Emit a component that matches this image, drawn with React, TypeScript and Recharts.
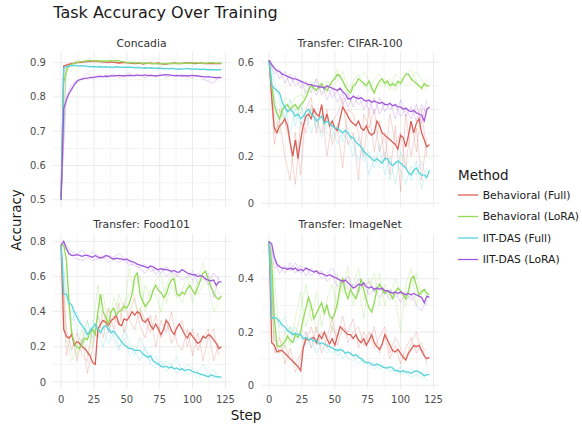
import { LineChart, Line, XAxis, YAxis, ReferenceLine } from 'recharts';

const FONT = '"DejaVu Sans", Verdana, sans-serif';

const METHODS = ['Behavioral (Full)', 'Behavioral (LoRA)', 'IIT-DAS (Full)', 'IIT-DAS (LoRA)'];
const COLORS = ['#DB5F57', '#91DB57', '#57D3DB', '#A157DB'];

// smoothed curves are sampled every 2 steps, single runs every 4
const MEAN_STEPS = [
  0, 2, 4, 6, 8, 10, 12, 14, 16, 18, 20, 22, 24, 26, 28, 30, 32, 34, 36, 38, 40, 42, 44, 46, 48, 50, 52, 54, 56, 58,
  60, 62, 64, 66, 68, 70, 72, 74, 76, 78, 80, 82, 84, 86, 88, 90, 92, 94, 96, 98, 100, 102, 104, 106, 108, 110, 112,
  114, 116, 118, 120, 122,
];
const SEED_STEPS = [
  0, 4, 8, 12, 16, 20, 24, 28, 32, 36, 40, 44, 48, 52, 56, 60, 64, 68, 72, 76, 80, 84, 88, 92, 96, 100, 104, 108, 112,
  116, 120,
];

const X_TICKS = [0, 25, 50, 75, 100, 125];
const X_MINOR = [12.5, 37.5, 62.5, 87.5, 112.5];

// ---- Concadia ----
const concBehFull = [
  0.5, 0.89, 0.893, 0.895, 0.897, 0.898, 0.9, 0.9, 0.901, 0.902,
  0.903, 0.904, 0.905, 0.905, 0.904, 0.903, 0.902, 0.903, 0.9, 0.902,
  0.901, 0.9, 0.899, 0.9, 0.901, 0.9, 0.899, 0.898, 0.897, 0.898,
  0.899, 0.896, 0.897, 0.898, 0.899, 0.897, 0.898, 0.899, 0.897, 0.895,
  0.896, 0.897, 0.898, 0.899, 0.898, 0.897, 0.898, 0.899, 0.9, 0.899,
  0.898, 0.897, 0.898, 0.899, 0.898, 0.897, 0.898, 0.897, 0.898, 0.897,
  0.898, 0.897,
];
const concBehLora = [
  0.5, 0.84, 0.875, 0.89, 0.895, 0.898, 0.9, 0.902, 0.903, 0.904,
  0.905, 0.906, 0.906, 0.905, 0.905, 0.904, 0.905, 0.904, 0.905, 0.906,
  0.905, 0.906, 0.905, 0.903, 0.902, 0.9, 0.901, 0.9, 0.899, 0.9,
  0.899, 0.898, 0.899, 0.898, 0.897, 0.898, 0.897, 0.896, 0.897, 0.896,
  0.897, 0.898, 0.897, 0.898, 0.897, 0.898, 0.897, 0.898, 0.899, 0.898,
  0.899, 0.9, 0.899, 0.898, 0.899, 0.898, 0.899, 0.9, 0.899, 0.898,
  0.899, 0.898,
];
const concIitFull = [
  0.5, 0.885, 0.888, 0.89, 0.891, 0.892, 0.891, 0.89, 0.891, 0.89,
  0.889, 0.888, 0.889, 0.888, 0.887, 0.888, 0.887, 0.888, 0.887, 0.886,
  0.887, 0.888, 0.887, 0.886, 0.887, 0.886, 0.887, 0.886, 0.885, 0.886,
  0.885, 0.884, 0.885, 0.884, 0.885, 0.884, 0.883, 0.884, 0.883, 0.882,
  0.883, 0.882, 0.883, 0.882, 0.881, 0.882, 0.881, 0.882, 0.883, 0.882,
  0.881, 0.882, 0.881, 0.88, 0.881, 0.88, 0.879, 0.88, 0.879, 0.88,
  0.879, 0.88,
];
const concIitLora = [
  0.5, 0.765, 0.79, 0.81, 0.822, 0.835, 0.845, 0.85, 0.852, 0.854,
  0.855, 0.856, 0.857, 0.858, 0.859, 0.86, 0.859, 0.861, 0.86, 0.862,
  0.861, 0.862, 0.863, 0.862, 0.861, 0.862, 0.863, 0.862, 0.863, 0.864,
  0.862, 0.863, 0.864, 0.862, 0.863, 0.862, 0.861, 0.862, 0.863, 0.864,
  0.865, 0.864, 0.863, 0.862, 0.863, 0.862, 0.861, 0.862, 0.861, 0.862,
  0.863, 0.862, 0.861, 0.86, 0.859, 0.858, 0.859, 0.858, 0.857, 0.856,
  0.857, 0.856,
];
const concBehFullRuns = [
  [0.5, 0.895, 0.9, 0.905, 0.903, 0.906, 0.9, 0.903, 0.898, 0.9, 0.902, 0.897, 0.9, 0.896, 0.899, 0.897, 0.9, 0.896, 0.898, 0.895, 0.899, 0.897, 0.9, 0.898, 0.901, 0.897, 0.899, 0.896, 0.898, 0.9, 0.897],
];
const concBehLoraRuns = [
  [0.5, 0.88, 0.895, 0.905, 0.903, 0.908, 0.905, 0.907, 0.904, 0.906, 0.908, 0.903, 0.9, 0.902, 0.898, 0.9, 0.897, 0.899, 0.896, 0.898, 0.895, 0.899, 0.897, 0.9, 0.898, 0.896, 0.9, 0.898, 0.901, 0.897, 0.899],
];
const concIitFullRuns = [
  [0.5, 0.895, 0.89, 0.893, 0.888, 0.896, 0.885, 0.892, 0.887, 0.89, 0.884, 0.889, 0.886, 0.891, 0.884, 0.888, 0.883, 0.886, 0.884, 0.887, 0.882, 0.885, 0.881, 0.884, 0.882, 0.879, 0.883, 0.88, 0.882, 0.878, 0.881],
];
const concIitLoraRuns = [
  [0.5, 0.8, 0.835, 0.848, 0.855, 0.87, 0.852, 0.865, 0.858, 0.856, 0.868, 0.855, 0.862, 0.87, 0.858, 0.864, 0.855, 0.866, 0.86, 0.868, 0.857, 0.863, 0.859, 0.866, 0.86, 0.855, 0.864, 0.852, 0.845, 0.84, 0.858],
];

// ---- Transfer: CIFAR-100 ----
const cifarBehFull = [
  0.61, 0.45, 0.32, 0.3, 0.33, 0.34, 0.36, 0.33, 0.26, 0.2,
  0.27, 0.19, 0.27, 0.33, 0.37, 0.38, 0.36, 0.4, 0.38, 0.37,
  0.42, 0.34, 0.38, 0.33, 0.35, 0.32, 0.31, 0.36, 0.41, 0.39,
  0.37, 0.35, 0.34, 0.33, 0.35, 0.32, 0.31, 0.33, 0.3, 0.29,
  0.3, 0.35, 0.33, 0.3, 0.29, 0.28, 0.27, 0.26, 0.25, 0.23,
  0.29, 0.28, 0.24, 0.29, 0.35, 0.3, 0.34, 0.36, 0.3, 0.27,
  0.24, 0.25,
];
const cifarBehLora = [
  0.61, 0.5, 0.42, 0.38, 0.36, 0.4, 0.41, 0.42, 0.4, 0.41,
  0.42, 0.4, 0.42, 0.43, 0.45, 0.48, 0.5, 0.49, 0.48, 0.5,
  0.51, 0.49, 0.48, 0.5, 0.52, 0.53, 0.55, 0.54, 0.52, 0.5,
  0.48, 0.47, 0.5, 0.51, 0.53, 0.52, 0.51, 0.5, 0.52, 0.49,
  0.47, 0.5, 0.52, 0.53, 0.51, 0.52, 0.5, 0.51, 0.5, 0.52,
  0.51, 0.53, 0.55, 0.55, 0.53, 0.52, 0.51, 0.5, 0.49, 0.51,
  0.5, 0.5,
];
const cifarIitFull = [
  0.61, 0.5, 0.49, 0.48, 0.47, 0.43, 0.41, 0.39, 0.4, 0.39,
  0.37, 0.38, 0.36, 0.37, 0.39, 0.4, 0.38, 0.37, 0.35, 0.36,
  0.37, 0.34, 0.35, 0.34, 0.33, 0.32, 0.32, 0.31, 0.3, 0.31,
  0.3, 0.28, 0.28, 0.26, 0.25, 0.24, 0.22, 0.21, 0.2, 0.19,
  0.18, 0.19, 0.18, 0.17, 0.19, 0.19, 0.17, 0.16, 0.17, 0.18,
  0.17, 0.16, 0.15, 0.13, 0.12, 0.14, 0.15, 0.13, 0.12, 0.12,
  0.11, 0.14,
];
const cifarIitLora = [
  0.61, 0.59, 0.575, 0.565, 0.56, 0.55, 0.545, 0.54, 0.535, 0.53,
  0.53, 0.525, 0.52, 0.515, 0.51, 0.505, 0.505, 0.5, 0.5, 0.495,
  0.495, 0.49, 0.5, 0.495, 0.49, 0.485, 0.48, 0.49, 0.475, 0.465,
  0.445, 0.445, 0.455, 0.45, 0.445, 0.45, 0.44, 0.435, 0.44, 0.43,
  0.435, 0.43, 0.425, 0.43, 0.42, 0.42, 0.425, 0.415, 0.42, 0.41,
  0.41, 0.4, 0.405, 0.395, 0.39, 0.395, 0.385, 0.38, 0.375, 0.35,
  0.4, 0.41,
];
const cifarBehFullRuns = [
  [0.61, 0.3, 0.35, 0.2, 0.1, 0.3, 0.12, 0.4, 0.45, 0.3, 0.42, 0.2, 0.35, 0.38, 0.45, 0.25, 0.3, 0.1, 0.38, 0.32, 0.4, 0.22, 0.3, 0.12, 0.33, 0.05, 0.38, 0.2, 0.32, 0.1, 0.28],
  [0.61, 0.25, 0.4, 0.35, 0.25, 0.08, 0.35, 0.3, 0.42, 0.36, 0.3, 0.4, 0.25, 0.32, 0.15, 0.4, 0.38, 0.3, 0.2, 0.4, 0.22, 0.35, 0.18, 0.38, 0.25, 0.3, 0.15, 0.35, 0.22, 0.4, 0.2],
];
const cifarBehLoraRuns = [
  [0.61, 0.38, 0.3, 0.45, 0.44, 0.4, 0.38, 0.5, 0.52, 0.48, 0.5, 0.47, 0.52, 0.57, 0.53, 0.45, 0.52, 0.55, 0.5, 0.48, 0.53, 0.55, 0.5, 0.53, 0.48, 0.52, 0.55, 0.57, 0.52, 0.48, 0.53],
  [0.61, 0.45, 0.42, 0.36, 0.4, 0.45, 0.46, 0.45, 0.48, 0.53, 0.47, 0.52, 0.5, 0.52, 0.56, 0.5, 0.48, 0.53, 0.56, 0.52, 0.48, 0.5, 0.53, 0.48, 0.55, 0.53, 0.5, 0.52, 0.56, 0.53, 0.48],
];
const cifarIitFullRuns = [
  [0.61, 0.45, 0.35, 0.42, 0.3, 0.4, 0.33, 0.38, 0.3, 0.36, 0.28, 0.35, 0.32, 0.25, 0.3, 0.26, 0.2, 0.28, 0.18, 0.22, 0.15, 0.25, 0.12, 0.2, 0.08, 0.22, 0.15, 0.1, 0.18, 0.06, 0.15],
  [0.61, 0.52, 0.44, 0.36, 0.44, 0.33, 0.42, 0.35, 0.4, 0.32, 0.38, 0.3, 0.28, 0.34, 0.26, 0.32, 0.25, 0.18, 0.24, 0.12, 0.2, 0.15, 0.22, 0.1, 0.18, 0.14, 0.08, 0.16, 0.12, 0.18, 0.1],
];
const cifarIitLoraRuns = [
  [0.61, 0.58, 0.53, 0.56, 0.5, 0.54, 0.49, 0.52, 0.47, 0.53, 0.46, 0.5, 0.45, 0.48, 0.42, 0.47, 0.41, 0.46, 0.4, 0.44, 0.38, 0.45, 0.39, 0.43, 0.36, 0.44, 0.37, 0.41, 0.35, 0.42, 0.38],
  [0.61, 0.55, 0.57, 0.51, 0.55, 0.5, 0.52, 0.47, 0.51, 0.46, 0.51, 0.44, 0.49, 0.43, 0.47, 0.41, 0.46, 0.42, 0.44, 0.4, 0.45, 0.38, 0.43, 0.4, 0.42, 0.37, 0.4, 0.36, 0.42, 0.34, 0.44],
];

// ---- Transfer: Food101 ----
const foodBehFull = [
  0.78, 0.3, 0.26, 0.25, 0.27, 0.21, 0.23, 0.22, 0.2, 0.19,
  0.17, 0.15, 0.11, 0.1, 0.3, 0.33, 0.35, 0.34, 0.32, 0.35,
  0.36, 0.38, 0.33, 0.32, 0.36, 0.35, 0.37, 0.4, 0.38, 0.4,
  0.39, 0.35, 0.34, 0.36, 0.32, 0.3, 0.33, 0.3, 0.27, 0.3,
  0.35, 0.33, 0.29, 0.27, 0.31, 0.33, 0.3, 0.27, 0.25, 0.28,
  0.26, 0.24, 0.22, 0.23, 0.26, 0.25, 0.27, 0.26, 0.24, 0.22,
  0.19, 0.2,
];
const foodBehLora = [
  0.78, 0.78, 0.7, 0.45, 0.28, 0.22, 0.2, 0.19, 0.22, 0.25,
  0.24, 0.28, 0.3, 0.27, 0.4, 0.5, 0.4, 0.37, 0.33, 0.4,
  0.42, 0.38, 0.4, 0.41, 0.43, 0.42, 0.45, 0.5, 0.6, 0.62,
  0.5, 0.46, 0.43, 0.45, 0.47, 0.52, 0.55, 0.52, 0.51, 0.48,
  0.5, 0.55, 0.58, 0.59, 0.5, 0.49, 0.51, 0.5, 0.53, 0.55,
  0.52, 0.5, 0.54, 0.58, 0.62, 0.63, 0.58, 0.54, 0.51, 0.48,
  0.47, 0.49,
];
const foodIitFull = [
  0.78, 0.5, 0.5, 0.45, 0.44, 0.4, 0.37, 0.34, 0.32, 0.3,
  0.27, 0.29, 0.31, 0.33, 0.3, 0.28, 0.31, 0.32, 0.3, 0.28,
  0.29, 0.27, 0.25, 0.23, 0.21, 0.2, 0.19, 0.19, 0.18, 0.18,
  0.18, 0.16, 0.15, 0.14, 0.15, 0.12, 0.11, 0.1, 0.09, 0.085,
  0.09, 0.08, 0.085, 0.075, 0.08, 0.07, 0.075, 0.065, 0.07, 0.07,
  0.06, 0.055, 0.05, 0.045, 0.04, 0.035, 0.03, 0.04, 0.035, 0.03,
  0.03, 0.025,
];
const foodIitLora = [
  0.78, 0.8, 0.76, 0.73, 0.72, 0.72, 0.725, 0.72, 0.715, 0.72,
  0.72, 0.715, 0.71, 0.72, 0.71, 0.705, 0.71, 0.72, 0.715, 0.705,
  0.7, 0.705, 0.7, 0.7, 0.695, 0.7, 0.69, 0.685, 0.68, 0.67,
  0.665, 0.66, 0.655, 0.65, 0.66, 0.655, 0.645, 0.64, 0.645, 0.64,
  0.64, 0.635, 0.63, 0.635, 0.625, 0.625, 0.64, 0.63, 0.62, 0.615,
  0.61, 0.61, 0.6, 0.605, 0.6, 0.585, 0.58, 0.575, 0.58, 0.55,
  0.57, 0.57,
];
const foodBehFullRuns = [
  [0.78, 0.15, 0.3, 0.12, 0.25, 0.05, 0.2, 0.38, 0.25, 0.42, 0.3, 0.45, 0.28, 0.4, 0.48, 0.32, 0.25, 0.38, 0.2, 0.35, 0.28, 0.4, 0.22, 0.18, 0.3, 0.15, 0.28, 0.12, 0.25, 0.3, 0.15],
  [0.78, 0.3, 0.18, 0.28, 0.15, 0.12, 0.3, 0.25, 0.4, 0.28, 0.38, 0.32, 0.45, 0.35, 0.3, 0.42, 0.35, 0.28, 0.38, 0.25, 0.36, 0.22, 0.3, 0.35, 0.2, 0.3, 0.18, 0.25, 0.3, 0.12, 0.22],
];
const foodBehLoraRuns = [
  [0.78, 0.25, 0.12, 0.2, 0.3, 0.15, 0.3, 0.55, 0.3, 0.42, 0.35, 0.5, 0.4, 0.65, 0.45, 0.38, 0.55, 0.48, 0.58, 0.62, 0.45, 0.55, 0.48, 0.52, 0.6, 0.45, 0.58, 0.68, 0.55, 0.4, 0.45],
  [0.78, 0.7, 0.3, 0.15, 0.25, 0.35, 0.2, 0.4, 0.5, 0.32, 0.48, 0.4, 0.45, 0.5, 0.55, 0.6, 0.4, 0.52, 0.5, 0.4, 0.55, 0.62, 0.5, 0.45, 0.55, 0.58, 0.5, 0.55, 0.6, 0.58, 0.5],
];
const foodIitFullRuns = [
  [0.78, 0.45, 0.42, 0.3, 0.2, 0.35, 0.25, 0.38, 0.3, 0.22, 0.28, 0.2, 0.25, 0.15, 0.18, 0.12, 0.2, 0.1, 0.08, 0.12, 0.06, 0.1, 0.05, 0.08, 0.04, 0.06, 0.02, 0.05, 0.03, 0.02, 0.03],
  [0.78, 0.52, 0.35, 0.4, 0.32, 0.25, 0.35, 0.28, 0.2, 0.32, 0.25, 0.18, 0.3, 0.22, 0.15, 0.25, 0.18, 0.12, 0.15, 0.08, 0.12, 0.1, 0.14, 0.06, 0.1, 0.08, 0.06, 0.1, 0.04, 0.07, 0.02],
];
const foodIitLoraRuns = [
  [0.78, 0.78, 0.74, 0.73, 0.75, 0.72, 0.74, 0.72, 0.7, 0.72, 0.71, 0.73, 0.7, 0.68, 0.66, 0.65, 0.67, 0.63, 0.64, 0.62, 0.66, 0.62, 0.6, 0.64, 0.62, 0.58, 0.62, 0.6, 0.55, 0.62, 0.58],
  [0.78, 0.76, 0.72, 0.7, 0.69, 0.71, 0.69, 0.7, 0.72, 0.68, 0.7, 0.68, 0.7, 0.66, 0.68, 0.64, 0.62, 0.66, 0.61, 0.65, 0.6, 0.63, 0.61, 0.58, 0.6, 0.63, 0.56, 0.58, 0.62, 0.48, 0.6],
];

// ---- Transfer: ImageNet ----
const imgBehFull = [
  0.54, 0.16, 0.15, 0.125, 0.13, 0.13, 0.12, 0.11, 0.1, 0.09,
  0.08, 0.07, 0.055, 0.14, 0.175, 0.17, 0.175, 0.18, 0.16, 0.19,
  0.175, 0.2, 0.175, 0.155, 0.175, 0.15, 0.185, 0.22, 0.21, 0.2,
  0.19, 0.19, 0.175, 0.19, 0.17, 0.16, 0.175, 0.15, 0.17, 0.19,
  0.16, 0.145, 0.135, 0.155, 0.19, 0.17, 0.15, 0.13, 0.125, 0.135,
  0.12, 0.105, 0.095, 0.12, 0.135, 0.15, 0.145, 0.15, 0.13, 0.11,
  0.1, 0.105,
];
const imgBehLora = [
  0.54, 0.46, 0.25, 0.15, 0.145, 0.15, 0.165, 0.185, 0.17, 0.16,
  0.19, 0.18, 0.2, 0.25, 0.29, 0.33, 0.3, 0.25, 0.27, 0.29,
  0.31, 0.27, 0.3, 0.26, 0.25, 0.27, 0.31, 0.37, 0.4, 0.35,
  0.325, 0.36, 0.34, 0.325, 0.355, 0.4, 0.36, 0.32, 0.29, 0.275,
  0.31, 0.36, 0.38, 0.36, 0.345, 0.355, 0.345, 0.325, 0.35, 0.365,
  0.355, 0.34, 0.325, 0.355, 0.4, 0.41, 0.375, 0.34, 0.35, 0.36,
  0.345, 0.34,
];
const imgIitFull = [
  0.54, 0.25, 0.255, 0.25, 0.24, 0.225, 0.22, 0.205, 0.2, 0.19,
  0.195, 0.19, 0.19, 0.175, 0.18, 0.17, 0.175, 0.165, 0.17, 0.155,
  0.16, 0.155, 0.15, 0.145, 0.14, 0.135, 0.13, 0.135, 0.13, 0.12,
  0.125, 0.12, 0.11, 0.115, 0.105, 0.1, 0.09, 0.085, 0.085, 0.08,
  0.075, 0.08, 0.075, 0.07, 0.065, 0.065, 0.07, 0.065, 0.055, 0.055,
  0.05, 0.055, 0.05, 0.05, 0.045, 0.05, 0.055, 0.05, 0.045, 0.035,
  0.04, 0.04,
];
const imgIitLora = [
  0.54, 0.53, 0.48, 0.455, 0.445, 0.44, 0.44, 0.435, 0.44, 0.435,
  0.44, 0.43, 0.435, 0.43, 0.44, 0.435, 0.43, 0.425, 0.43, 0.42,
  0.42, 0.415, 0.41, 0.415, 0.41, 0.405, 0.4, 0.395, 0.39, 0.395,
  0.385, 0.375, 0.365, 0.37, 0.38, 0.375, 0.385, 0.37, 0.365, 0.37,
  0.36, 0.365, 0.36, 0.365, 0.355, 0.355, 0.35, 0.345, 0.35, 0.345,
  0.35, 0.345, 0.34, 0.345, 0.34, 0.345, 0.34, 0.335, 0.33, 0.31,
  0.335, 0.33,
];
const imgBehFullRuns = [
  [0.54, 0.12, 0.18, 0.08, 0.14, 0.05, 0.1, 0.2, 0.14, 0.22, 0.12, 0.18, 0.25, 0.15, 0.22, 0.2, 0.25, 0.14, 0.2, 0.16, 0.22, 0.12, 0.18, 0.1, 0.15, 0.08, 0.14, 0.18, 0.12, 0.16, 0.08],
  [0.54, 0.18, 0.12, 0.15, 0.1, 0.08, 0.12, 0.16, 0.22, 0.15, 0.2, 0.14, 0.22, 0.18, 0.26, 0.16, 0.2, 0.22, 0.15, 0.2, 0.14, 0.18, 0.22, 0.12, 0.18, 0.14, 0.1, 0.16, 0.2, 0.12, 0.14],
];
const imgBehLoraRuns = [
  [0.54, 0.18, 0.12, 0.2, 0.15, 0.25, 0.35, 0.22, 0.3, 0.2, 0.28, 0.3, 0.2, 0.42, 0.35, 0.45, 0.3, 0.38, 0.25, 0.4, 0.35, 0.42, 0.3, 0.36, 0.32, 0.2, 0.38, 0.44, 0.3, 0.36, 0.33],
  [0.54, 0.4, 0.18, 0.14, 0.22, 0.18, 0.28, 0.38, 0.24, 0.35, 0.22, 0.32, 0.38, 0.28, 0.4, 0.34, 0.38, 0.44, 0.32, 0.36, 0.42, 0.3, 0.38, 0.34, 0.4, 0.35, 0.3, 0.38, 0.42, 0.34, 0.36],
];
const imgIitFullRuns = [
  [0.54, 0.22, 0.25, 0.2, 0.22, 0.16, 0.2, 0.15, 0.18, 0.12, 0.16, 0.14, 0.12, 0.14, 0.1, 0.12, 0.11, 0.08, 0.1, 0.07, 0.08, 0.06, 0.07, 0.05, 0.06, 0.04, 0.05, 0.03, 0.04, 0.03, 0.02],
  [0.54, 0.28, 0.22, 0.26, 0.19, 0.22, 0.17, 0.2, 0.14, 0.17, 0.15, 0.12, 0.15, 0.11, 0.13, 0.1, 0.09, 0.11, 0.08, 0.09, 0.06, 0.08, 0.07, 0.06, 0.05, 0.07, 0.04, 0.06, 0.05, 0.04, 0.05],
];
const imgIitLoraRuns = [
  [0.54, 0.47, 0.42, 0.45, 0.43, 0.46, 0.42, 0.44, 0.41, 0.43, 0.4, 0.42, 0.44, 0.4, 0.38, 0.41, 0.36, 0.4, 0.37, 0.39, 0.35, 0.37, 0.34, 0.36, 0.33, 0.35, 0.32, 0.34, 0.3, 0.28, 0.32],
  [0.54, 0.44, 0.45, 0.42, 0.46, 0.42, 0.45, 0.41, 0.44, 0.42, 0.43, 0.39, 0.41, 0.37, 0.4, 0.36, 0.38, 0.35, 0.38, 0.34, 0.36, 0.33, 0.36, 0.32, 0.35, 0.31, 0.35, 0.32, 0.34, 0.33, 0.3],
];

const toPoints = (steps: number[], values: number[]) => values.map((value, i) => ({ step: steps[i], value }));

const PANELS = [
  {
    title: 'Concadia',
    left: 52.6,
    top: 52,
    showX: false,
    domain: [0.479, 0.931],
    ticks: [0.5, 0.6, 0.7, 0.8, 0.9],
    minor: [0.55, 0.65, 0.75, 0.85],
    means: [concBehFull, concBehLora, concIitFull, concIitLora],
    runs: [concBehFullRuns, concBehLoraRuns, concIitFullRuns, concIitLoraRuns],
  },
  {
    title: 'Transfer: CIFAR-100',
    left: 261.2,
    top: 52,
    showX: false,
    domain: [-0.016, 0.644],
    ticks: [0, 0.2, 0.4, 0.6],
    minor: [0.1, 0.3, 0.5],
    means: [cifarBehFull, cifarBehLora, cifarIitFull, cifarIitLora],
    runs: [cifarBehFullRuns, cifarBehLoraRuns, cifarIitFullRuns, cifarIitLoraRuns],
  },
  {
    title: 'Transfer: Food101',
    left: 52.6,
    top: 233.5,
    showX: true,
    domain: [-0.04, 0.842],
    ticks: [0, 0.2, 0.4, 0.6, 0.8],
    minor: [0.1, 0.3, 0.5, 0.7],
    means: [foodBehFull, foodBehLora, foodIitFull, foodIitLora],
    runs: [foodBehFullRuns, foodBehLoraRuns, foodIitFullRuns, foodIitLoraRuns],
  },
  {
    title: 'Transfer: ImageNet',
    left: 261.2,
    top: 233.5,
    showX: true,
    domain: [-0.014, 0.568],
    ticks: [0, 0.2, 0.4],
    minor: [0.1, 0.3, 0.5],
    means: [imgBehFull, imgBehLora, imgIitFull, imgIitLora],
    runs: [imgBehFullRuns, imgBehLoraRuns, imgIitFullRuns, imgIitLoraRuns],
  },
];

const PLOT_W = 177.9;
const PLOT_H = 155;
const Y_AXIS_W = 40;
const X_AXIS_H = 22;
const PAD = 8;
const TICK_STYLE = { fontSize: 10, fill: '#4D4D4D', fontFamily: FONT };

function Panel({ panel }: { panel: (typeof PANELS)[number] }) {
  const bottom = panel.showX ? 0 : PAD;
  const height = PAD + PLOT_H + bottom + (panel.showX ? X_AXIS_H : 0);
  return (
    <div style={{ position: 'absolute', left: panel.left - Y_AXIS_W, top: panel.top - PAD }}>
      <LineChart
        width={Y_AXIS_W + PLOT_W + PAD + 4}
        height={height}
        margin={{ top: PAD, right: PAD + 4, bottom, left: 0 }}
      >
        <XAxis
          type="number"
          dataKey="step"
          domain={[-6.15, 129.15]}
          ticks={X_TICKS}
          interval={0}
          allowDataOverflow
          hide={!panel.showX}
          height={X_AXIS_H}
          axisLine={false}
          tickLine={false}
          tickSize={0}
          tickMargin={7}
          tick={TICK_STYLE}
        />
        <YAxis
          type="number"
          domain={panel.domain}
          ticks={panel.ticks}
          interval={0}
          allowDataOverflow
          width={Y_AXIS_W}
          axisLine={false}
          tickLine={false}
          tickSize={0}
          tickMargin={7}
          tick={TICK_STYLE}
          tickFormatter={(v: number) => String(v)}
        />
        {X_MINOR.map((v) => (
          <ReferenceLine key={`xm${v}`} x={v} stroke="#F1F1F1" strokeWidth={0.8} />
        ))}
        {panel.minor.map((v) => (
          <ReferenceLine key={`ym${v}`} y={v} stroke="#F1F1F1" strokeWidth={0.8} />
        ))}
        {X_TICKS.map((v) => (
          <ReferenceLine key={`x${v}`} x={v} stroke="#EBEBEB" strokeWidth={1} />
        ))}
        {panel.ticks.map((v) => (
          <ReferenceLine key={`y${v}`} y={v} stroke="#EBEBEB" strokeWidth={1} />
        ))}
        {panel.runs.flatMap((runs, m) =>
          runs.map((run, r) => (
            <Line
              key={`run-${m}-${r}`}
              data={toPoints(SEED_STEPS, run)}
              dataKey="value"
              type="linear"
              stroke={COLORS[m]}
              strokeOpacity={0.28}
              strokeWidth={0.9}
              dot={false}
              activeDot={false}
              isAnimationActive={false}
            />
          )),
        )}
        {panel.means.map((values, m) => (
          <Line
            key={`mean-${m}`}
            data={toPoints(MEAN_STEPS, values)}
            dataKey="value"
            type="linear"
            stroke={COLORS[m]}
            strokeWidth={1.3}
            dot={false}
            activeDot={false}
            isAnimationActive={false}
          />
        ))}
      </LineChart>
    </div>
  );
}

const LEGEND_ROWS = [195, 216.5, 238, 259.5];

export default function App() {
  return (
    <div style={{ position: 'absolute', left: 0, top: 0, width: 582, height: 425, background: '#fff' }}>
      {PANELS.map((p) => (
        <Panel key={p.title} panel={p} />
      ))}
      <svg
        width={582}
        height={425}
        style={{ position: 'absolute', left: 0, top: 0, pointerEvents: 'none' }}
        fontFamily={FONT}
      >
        <text x={53.3} y={18.3} fontSize={16} fill="#1A1A1A">
          Task Accuracy Over Training
        </text>
        {PANELS.map((p) => (
          <text key={p.title} x={p.left + PLOT_W / 2} y={p.top - 5.5} fontSize={10.8} fill="#333" textAnchor="middle">
            {p.title}
          </text>
        ))}
        <text x={246} y={420} fontSize={13.5} fill="#1A1A1A" textAnchor="middle">
          Step
        </text>
        <text x={20.5} y={220} fontSize={13.5} fill="#1A1A1A" textAnchor="middle" transform="rotate(-90 20.5 220)">
          Accuracy
        </text>
        <text x={458} y={180} fontSize={13.5} fill="#1A1A1A">
          Method
        </text>
        {METHODS.map((name, i) => (
          <g key={name}>
            <line x1={458} x2={478} y1={LEGEND_ROWS[i]} y2={LEGEND_ROWS[i]} stroke={COLORS[i]} strokeWidth={1.3} />
            <text x={482.7} y={LEGEND_ROWS[i] + 3.9} fontSize={10.8} fill="#1A1A1A">
              {name}
            </text>
          </g>
        ))}
      </svg>
    </div>
  );
}
